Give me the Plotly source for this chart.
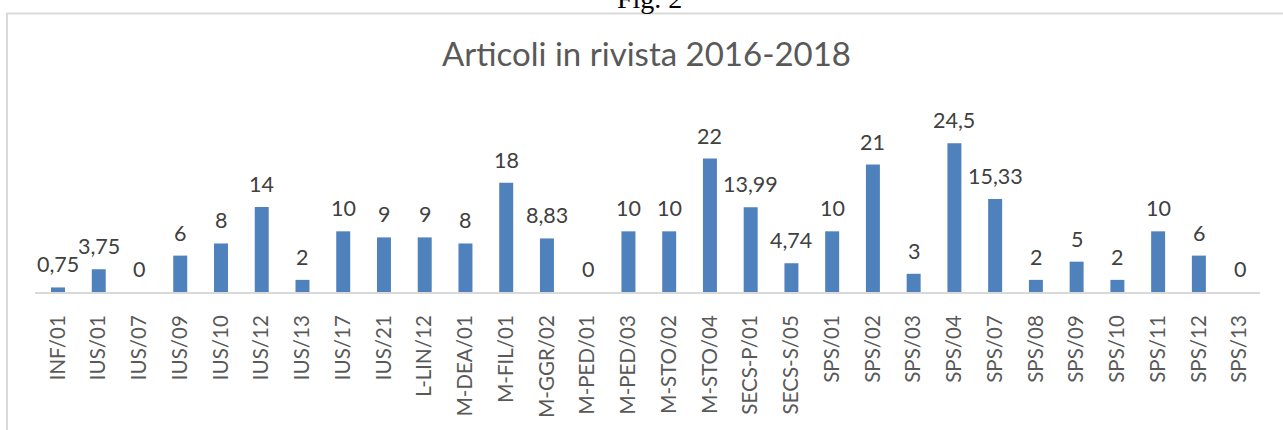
import plotly.graph_objects as go

categories = ["INF/01", "IUS/01", "IUS/07", "IUS/09", "IUS/10", "IUS/12", "IUS/13", "IUS/17",
              "IUS/21", "L-LIN/12", "M-DEA/01", "M-FIL/01", "M-GGR/02", "M-PED/01", "M-PED/03",
              "M-STO/02", "M-STO/04", "SECS-P/01", "SECS-S/05", "SPS/01", "SPS/02", "SPS/03",
              "SPS/04", "SPS/07", "SPS/08", "SPS/09", "SPS/10", "SPS/11", "SPS/12", "SPS/13"]
values = [0.75, 3.75, 0, 6, 8, 14, 2, 10, 9, 9, 8, 18, 8.83, 0, 10, 10, 22, 13.99, 4.74, 10,
          21, 3, 24.5, 15.33, 2, 5, 2, 10, 6, 0]

title_text = "Articoli in rivista 2016-2018"
fig_caption = "Fig. 2"


def fmt(v):
    if float(v).is_integer():
        return str(int(v))
    return ("%g" % v).replace(".", ",")


W, H = 1283, 430
L, R, T, B = 35, 23, 110, 135
plot_h = H - T - B
plot_w = W - L - R

fig = go.Figure()
fig.add_trace(go.Bar(
    x=categories, y=values,
    marker=dict(color="#4F81BD", line=dict(width=0)),
    hoverinfo="x+y",
))

annotations = []
for c, v in zip(categories, values):
    annotations.append(dict(
        x=c, y=v, xref="x", yref="y", text=fmt(v), showarrow=False,
        yanchor="bottom", xanchor="center", yshift=8,
        font=dict(family="Lato", size=21.5, color="#404040"),
    ))

# Title
annotations.append(dict(
    x=(646 - L) / plot_w, y=(H - B - 52.5) / plot_h, xref="paper", yref="paper",
    text=title_text, showarrow=False, xanchor="center", yanchor="middle",
    font=dict(family="Lato", size=33, color="#595959"),
))
# Caption above the frame (cut off at the top edge, as in the source)
annotations.append(dict(
    x=(649 - L) / plot_w, y=(H - B + 3.4) / plot_h, xref="paper", yref="paper",
    text=fig_caption, showarrow=False, xanchor="center", yanchor="middle",
    font=dict(family="Liberation Serif", size=28, color="#000000"),
))

fig.update_layout(
    width=W, height=H,
    margin=dict(l=L, r=R, t=T, b=B),
    paper_bgcolor="white", plot_bgcolor="white",
    showlegend=False,
    bargap=0.657,
    annotations=annotations,
    shapes=[dict(
        type="rect", xref="paper", yref="paper",
        x0=(7 - L) / plot_w, x1=1.2, y0=-1, y1=(H - B - 12) / plot_h,
        line=dict(color="#D9D9D9", width=2), fillcolor="rgba(0,0,0,0)", layer="below",
    )],
    xaxis=dict(
        type="category", tickangle=-90, showgrid=False, zeroline=False,
        showline=True, linecolor="#D9D9D9", linewidth=2,
        ticks="", ticklabelstandoff=13,
        tickfont=dict(family="Lato", size=20.5, color="#595959"),
    ),
    yaxis=dict(range=[0, 30], visible=False, showgrid=False, zeroline=False),
)

fig.write_html(
    "out.html",
    config={"displayModeBar": False},
    post_script="document.body.style.margin='0';document.body.style.overflow='hidden';",
)
